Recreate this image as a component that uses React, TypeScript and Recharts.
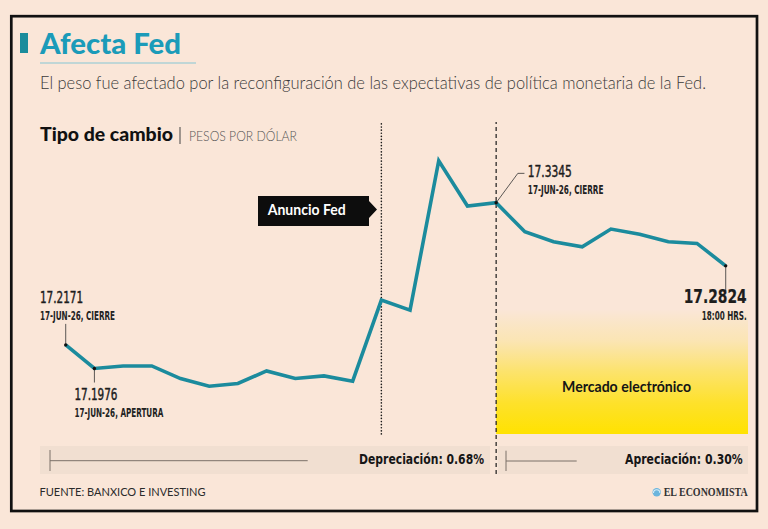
import React from 'react';
import {
  LineChart,
  Line,
  XAxis,
  YAxis,
  ReferenceLine,
  ReferenceArea,
  ReferenceDot,
} from 'recharts';

// Peso per dollar quotes, in sequence through the session
const rates = [
  17.2171, 17.1976, 17.1997, 17.1997, 17.1893, 17.183, 17.1852, 17.1956,
  17.1893, 17.1915, 17.1871, 17.2541, 17.2458, 17.3692, 17.3318, 17.3345,
  17.3105, 17.3023, 17.2981, 17.3128, 17.3084, 17.3023, 17.3009, 17.2824,
];
const steps = rates.map((_, i) => i);

// Annotated quotes
const callouts = [
  { index: 0, note: '17-JUN-26, CIERRE' },
  { index: 1, note: '17-JUN-26, APERTURA' },
  { index: 15, note: '17-JUN-26, CIERRE' },
  { index: 23, note: '18:00 HRS.' },
];

const fedIndex = 11; // Fed announcement
const closeIndex = 15; // previous close, start of electronic market
const lastIndex = rates.length - 1;

const yDomain: [number, number] = [17.1435, 17.4012];
const xDomain: [number, number] = [-0.896, 23.777];
const dashedLow = 17.1105;

const data = steps.map((i) => ({ i, v: rates[i] }));

const depreciation = ((rates[closeIndex] / rates[0] - 1) * 100).toFixed(2);
const appreciation = ((1 - rates[lastIndex] / rates[closeIndex]) * 100).toFixed(2);

const BG = '#fae6d8';
const BAND = '#f1dfd1';
const TEAL = '#1b8b9d';
const FONT = "Lato, 'Open Sans', sans-serif";
const NARROW = "'Liberation Sans Narrow', 'DejaVu Sans Condensed', Roboto, sans-serif";

type Layout = {
  dx: number;
  valueDy: number;
  noteDy: number;
  lead: [number, number][];
  anchor: 'start' | 'end';
  valueW: number;
  noteW: number;
  big?: boolean;
};

const calloutLayout: Record<number, Layout> = {
  0: { dx: -25.7, valueDy: -42, noteDy: -25, lead: [[0, -21], [0, 0]], anchor: 'start', valueW: 43, noteW: 75 },
  1: { dx: -20, valueDy: 31, noteDy: 48, lead: [[0, 0], [0, 14]], anchor: 'start', valueW: 43, noteW: 89 },
  15: { dx: 31.7, valueDy: -26, noteDy: -8.4, lead: [[0, 0], [21.7, -29.4], [28.3, -29.4]], anchor: 'start', valueW: 44, noteW: 75.6 },
  23: { dx: 21, valueDy: 37.3, noteDy: 54, lead: [[0, 0], [0, 25]], anchor: 'end', valueW: 63, noteW: 45, big: true },
};

function Callout({ cx, cy, index, note }: { cx: number; cy: number; index: number; note: string }) {
  const c = calloutLayout[index];
  if (!c || cx == null || cy == null) return null;
  const pts = c.lead.map(([dx, dy]) => `${cx + dx},${cy + dy}`).join(' ');
  return (
    <g>
      <polyline points={pts} fill="none" stroke="#333" strokeWidth={0.8} />
      <circle cx={cx} cy={cy} r={1.7} fill="#111" />
      <text
        x={cx + c.dx}
        y={cy + c.valueDy}
        textAnchor={c.anchor}
        fontFamily={NARROW}
        fontStretch="condensed"
        fontSize={c.big ? 19 : 16}
        fontWeight={c.big ? 700 : 400}
        stroke="#1d1d1d"
        strokeWidth={c.big ? 0.2 : 0.45}
        textLength={c.valueW}
        lengthAdjust="spacingAndGlyphs"
        fill="#1d1d1d"
      >
        {rates[index].toFixed(4)}
      </text>
      <text
        x={cx + c.dx}
        y={cy + c.noteDy}
        textAnchor={c.anchor}
        fontFamily={NARROW}
        fontStretch="condensed"
        fontSize={11.5}
        fontWeight={700}
        textLength={c.noteW}
        lengthAdjust="spacingAndGlyphs"
        fill="#222"
      >
        {note}
      </text>
    </g>
  );
}

function Frame() {
  return (
    <svg width={768} height={529} style={{ position: 'absolute', left: 0, top: 0 }}>
      <rect x={0} y={0} width={768} height={529} fill={BG} />
      <rect x={11.3} y={16.2} width={745.7} height={494.8} fill="none" stroke="#111" strokeWidth={2.7} />

      {/* heading */}
      <rect x={20} y={33} width={8} height={20} fill="#1a8c9c" />
      <text x={40} y={54} fontFamily={FONT} fontWeight={900} fontSize={28} fill="#1b9bb9" textLength={141} lengthAdjust="spacingAndGlyphs">
        Afecta Fed
      </text>
      <line x1={40} y1={63} x2={196} y2={63} stroke="#86c6d4" strokeWidth={1} />
      <text x={40} y={89} fontFamily={FONT} fontWeight={300} fontSize={18} fill="#3a3a3a" textLength={666} lengthAdjust="spacingAndGlyphs">
        El peso fue afectado por la reconfiguración de las expectativas de política monetaria de la Fed.
      </text>

      <text x={40} y={140.7} fontFamily={FONT} fontWeight={900} fontSize={18} fill="#111" textLength={133} lengthAdjust="spacingAndGlyphs">
        Tipo de cambio
      </text>
      <line x1={180} y1={127} x2={180} y2={144} stroke="#444" strokeWidth={1} />
      <text x={189} y={140.7} fontFamily={FONT} fontWeight={300} fontSize={13} fill="#555" textLength={108} lengthAdjust="spacingAndGlyphs">
        PESOS POR DÓLAR
      </text>

      {/* Fed announcement tag */}
      <polygon points="258,196 369,196 369,201 377,209.5 369,218 369,226 258,226" fill="#0d0d0d" />
      <text x={267.7} y={215} fontFamily={FONT} fontWeight={700} fontSize={15} fill="#fff" textLength={78} lengthAdjust="spacingAndGlyphs">
        Anuncio Fed
      </text>

      {/* change bands */}
      <rect x={40} y={446} width={450} height={28} fill={BAND} />
      <rect x={498} y={446} width={250} height={28} fill={BAND} />
      <line x1={50} y1={450} x2={50} y2={471} stroke="#7a7068" strokeWidth={1} />
      <line x1={50} y1={460.7} x2={307.7} y2={460.7} stroke="#7a7068" strokeWidth={1} />
      <line x1={506} y1={450.7} x2={506} y2={471} stroke="#7a7068" strokeWidth={1} />
      <line x1={506} y1={461} x2={576.7} y2={461} stroke="#7a7068" strokeWidth={1} />
      <text x={484} y={464} textAnchor="end" fontFamily={NARROW} fontStretch="condensed" fontWeight={700} fontSize={14.5} fill="#161616" textLength={125} lengthAdjust="spacingAndGlyphs">
        {`Depreciación: ${depreciation}%`}
      </text>
      <text x={742.7} y={464} textAnchor="end" fontFamily={NARROW} fontStretch="condensed" fontWeight={700} fontSize={14.5} fill="#161616" textLength={117.7} lengthAdjust="spacingAndGlyphs">
        {`Apreciación: ${appreciation}%`}
      </text>

      {/* footer */}
      <text x={39.5} y={496} fontFamily={FONT} fontSize={12} fill="#2a2a2a" textLength={166} lengthAdjust="spacingAndGlyphs">
        FUENTE: BANXICO E INVESTING
      </text>
      <circle cx={656.7} cy={492.3} r={4.2} fill="#6bb5dd" />
      <path d="M653.5,493 a3.2,3.2 0 0 1 6.4,0" fill="none" stroke="#d8eef8" strokeWidth={1.1} />
      <text x={747.7} y={496} textAnchor="end" fontFamily="'Liberation Serif', 'DejaVu Serif', serif" fontWeight={700} fontSize={11.5} fill="#333" textLength={84} lengthAdjust="spacingAndGlyphs">
        EL ECONOMISTA
      </text>
    </svg>
  );
}

function MarketLabel({ viewBox }: any) {
  if (!viewBox) return null;
  const cx = viewBox.x + viewBox.width / 2 + 4.5;
  return (
    <text x={cx} y={392.3} textAnchor="middle" fontFamily={FONT} fontWeight={700} fontSize={15} fill="#151515" textLength={129} lengthAdjust="spacingAndGlyphs">
      Mercado electrónico
    </text>
  );
}

export default function App() {
  return (
    <div style={{ position: 'absolute', left: 0, top: 0, width: 768, height: 529, background: BG }}>
      <Frame />
      <div style={{ position: 'absolute', left: 0, top: 0 }}>
        <LineChart width={768} height={529} data={data} margin={{ top: 122, right: 20, bottom: 95, left: 40 }}>
          <defs>
            <linearGradient id="mercadoFill" x1="0" y1="0" x2="0" y2="1">
              <stop offset="0" stopColor="#ffe000" stopOpacity={0} />
              <stop offset="0.6" stopColor="#ffe000" stopOpacity={0} />
              <stop offset="0.7" stopColor="#ffdf10" stopOpacity={0.18} />
              <stop offset="0.8" stopColor="#ffe000" stopOpacity={0.5} />
              <stop offset="0.9" stopColor="#ffe000" stopOpacity={0.8} />
              <stop offset="1" stopColor="#ffe200" stopOpacity={1} />
            </linearGradient>
          </defs>
          <XAxis
            dataKey="i"
            type="number"
            domain={xDomain}
            allowDataOverflow
            tick={false}
            tickLine={false}
            height={0}
            axisLine={{ stroke: '#8c8278', strokeWidth: 1 }}
          />
          <YAxis hide type="number" domain={yDomain} allowDataOverflow />
          <ReferenceArea
            x1={closeIndex}
            fill="url(#mercadoFill)"
            fillOpacity={1}
            stroke="none"
            ifOverflow="visible"
            label={<MarketLabel />}
          />
          <ReferenceLine
            x={fedIndex}
            stroke="#1a1a1a"
            strokeWidth={1.6}
            strokeDasharray="0.1 3"
            strokeLinecap="round"
          />
          <ReferenceLine
            segment={[
              { x: closeIndex, y: dashedLow },
              { x: closeIndex, y: yDomain[1] },
            ]}
            stroke="#1a1a1a"
            strokeWidth={1.2}
            strokeDasharray="4 3"
            ifOverflow="visible"
          />
          <Line
            type="linear"
            dataKey="v"
            stroke={TEAL}
            strokeWidth={3.6}
            dot={false}
            activeDot={false}
            isAnimationActive={false}
          />
          {callouts.map((c) => (
            <ReferenceDot
              key={c.index}
              x={c.index}
              y={rates[c.index]}
              r={2}
              ifOverflow="visible"
              shape={(p: any) => <Callout cx={p.cx} cy={p.cy} index={c.index} note={c.note} />}
            />
          ))}
        </LineChart>
      </div>
    </div>
  );
}
